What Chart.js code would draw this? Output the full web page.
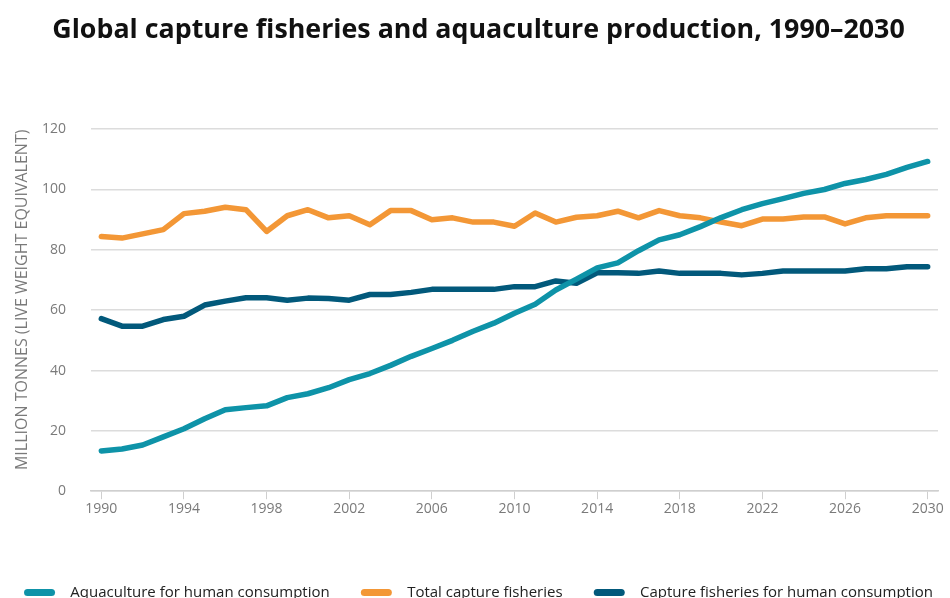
<!DOCTYPE html>
<html>
<head>
<meta charset="utf-8">
<script src="https://cdn.jsdelivr.net/npm/chart.js@4/dist/chart.umd.min.js"></script>
<style>
  html, body { margin: 0; padding: 0; background: #fff; }
  #wrap { width: 950px; height: 598px; }
</style>
</head>
<body>
<div id="wrap"><canvas id="fishChart"></canvas></div>
<script>
const years = [];
for (let y = 1990; y <= 2030; y++) years.push(String(y));

const aquaculture = [13.3, 14, 15.3, 18, 20.7, 24, 27, 27.7, 28.3, 31, 32.3, 34.3, 37, 39, 41.7,
  44.7, 47.3, 50, 53, 55.7, 59, 62, 66.7, 70.3, 74, 75.7, 79.7, 83.3, 85, 87.7, 90.7,
  93.3, 95.3, 97, 98.7, 100, 102, 103.3, 105, 107.3, 109.3];

const totalCapture = [84.4, 83.9, 85.3, 86.7, 92, 92.8, 94.1, 93.3, 86.1, 91.3, 93.3, 90.6, 91.3,
  88.3, 93, 93, 90, 90.6, 89.2, 89.2, 87.8, 92.2, 89.2, 90.8, 91.3, 92.8, 90.6, 93, 91.3,
  90.6, 89.2, 88, 90.2, 90.2, 90.9, 90.9, 88.6, 90.6, 91.3, 91.3, 91.3];

const captureHuman = [57.2, 54.7, 54.7, 56.9, 58, 61.7, 63, 64.1, 64.1, 63.3, 64, 63.9, 63.3,
  65.2, 65.2, 65.9, 66.9, 66.9, 66.9, 66.9, 67.8, 67.8, 69.7, 68.9, 72.4, 72.4, 72.2, 73,
  72.2, 72.2, 72.2, 71.7, 72.2, 73, 73, 73, 73, 73.7, 73.7, 74.4, 74.4];

const grey = "#7a7a7a";
const font = "'Open Sans', 'Noto Sans', sans-serif";

function line(label, data, color) {
  return {
    label: label,
    data: data,
    borderColor: color,
    backgroundColor: color,
    borderWidth: 5.5,
    pointRadius: 0,
    tension: 0,
    borderCapStyle: "round",
    borderJoinStyle: "round"
  };
}

new Chart(document.getElementById("fishChart"), {
  type: "line",
  data: {
    labels: years,
    datasets: [
      line("Aquaculture for human consumption", aquaculture, "#0e93a8"),
      line("Total capture fisheries", totalCapture, "#f39736"),
      line("Capture fisheries for human consumption", captureHuman, "#02597b")
    ]
  },
  options: {
    responsive: true,
    maintainAspectRatio: false,
    animation: false,
    layout: { padding: { left: 19, right: 12, top: 0, bottom: -12 } },
    plugins: {
      title: {
        display: true,
        text: "Global capture fisheries and aquaculture production, 1990–2030",
        color: "#111",
        font: { family: font, size: 26.8, weight: "bold" },
        padding: { top: 14, bottom: 83 }
      },
      legend: {
        position: "bottom",
        labels: {
          color: "#222",
          font: { family: font, size: 15 },
          boxWidth: 31,
          boxHeight: 7,
          useBorderRadius: true,
          borderRadius: 3.5,
          padding: 0,
          generateLabels(chart) {
            const items = Chart.defaults.plugins.legend.labels.generateLabels(chart);
            // extra spaces: gap after the marker and between entries
            items.forEach((it, i) => {
              it.text = "  " + it.text + (i < items.length - 1 ? "        " : "");
              it.lineWidth = 0;
            });
            return items;
          }
        }
      },
      tooltip: { enabled: false }
    },
    scales: {
      x: {
        offset: true,
        grid: { drawOnChartArea: false, drawTicks: true, tickLength: 8, color: "#cfcfcf" },
        border: { display: true, color: "#cfcfcf", width: 1.5 },
        ticks: {
          autoSkip: false,
          maxRotation: 0,
          color: grey,
          font: { family: font, size: 14 },
          padding: 1,
          callback(value, index) {
            return index % 4 === 0 ? this.getLabelForValue(value) : null;
          }
        },
        afterFit(scale) { scale.height += 67; }
      },
      y: {
        min: 0,
        max: 120,
        grid: { color: "#dcdcdc", lineWidth: 1.5, drawTicks: false },
        border: { display: false },
        ticks: {
          stepSize: 20,
          color: grey,
          font: { family: font, size: 14 },
          padding: 25
        },
        title: {
          display: true,
          text: "     MILLION TONNES (LIVE WEIGHT EQUIVALENT)",
          color: grey,
          font: { family: font, size: 16 },
          padding: { top: -6, bottom: 0 }
        },
        afterFit(scale) { scale.width = 72; }
      }
    }
  }
});
</script>
</body>
</html>
